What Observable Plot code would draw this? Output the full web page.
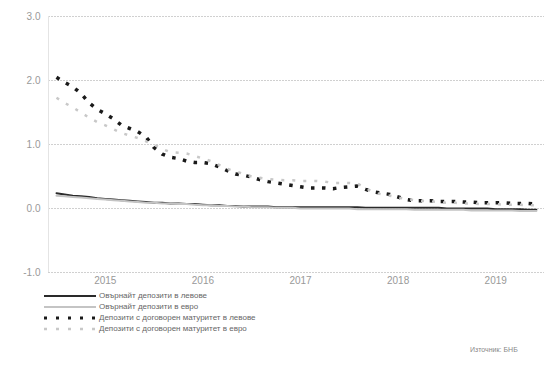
<!DOCTYPE html>
<html>
<head>
<meta charset="utf-8">
<script src="https://cdn.jsdelivr.net/npm/d3@7"></script>
<script src="https://cdn.jsdelivr.net/npm/@observablehq/plot@0.6"></script>
<style>
  html, body { margin: 0; padding: 0; background: #fff; }
  body { width: 544px; height: 367px; overflow: hidden; font-family: "Liberation Sans", Arial, sans-serif; position: relative; }
  #chart svg { display: block; }
  .legend { position: absolute; left: 44px; top: 290px; font-size: 8px; color: #666; }
  .legend .row { display: flex; align-items: center; height: 11px; }
  .legend svg { margin-right: 3px; }
  .source { position: absolute; left: 470px; top: 346px; font-size: 7px; color: #888; }
</style>
</head>
<body>
<div id="chart"></div>
<div class="legend" id="legend"></div>
<div class="source">Източник: БНБ</div>
<script>
// Monthly series, January 2015 – December 2019 (%)
const startYear = 2015;
const seriesNames = [
  "Овърнайт депозити в левове",
  "Овърнайт депозити в евро",
  "Депозити с договорен матуритет в левове",
  "Депозити с договорен матуритет в евро"
];
const overnightBGN = [
  0.24,0.22,0.20,0.19,0.18,0.16,0.15,0.14,0.13,0.12,0.11,0.10,
  0.09,0.09,0.08,0.08,0.07,0.07,0.06,0.05,0.05,0.04,0.04,0.03,
  0.03,0.03,0.03,0.02,0.02,0.02,0.02,0.02,0.02,0.02,0.02,0.02,
  0.02,0.02,0.01,0.01,0.01,0.01,0.01,0.01,0.01,0.01,0.01,0.01,
  0.00,0.00,0.00,0.00,0.00,0.00,-0.01,-0.01,-0.01,-0.01,-0.02,-0.02
];
const overnightEUR = [
  0.20,0.19,0.18,0.17,0.16,0.15,0.14,0.13,0.12,0.11,0.10,0.09,
  0.09,0.08,0.08,0.07,0.07,0.06,0.05,0.05,0.04,0.04,0.03,0.03,
  0.02,0.02,0.02,0.01,0.01,0.01,0.00,0.00,0.00,0.00,0.00,0.00,
  0.00,-0.01,-0.01,-0.01,-0.01,-0.01,-0.01,-0.01,-0.02,-0.02,-0.02,-0.02,
  -0.02,-0.02,-0.02,-0.03,-0.03,-0.03,-0.03,-0.03,-0.03,-0.04,-0.04,-0.04
];
const maturityBGN = [
  2.05,1.97,1.90,1.80,1.65,1.55,1.48,1.40,1.30,1.25,1.20,1.12,
  0.95,0.85,0.80,0.78,0.74,0.72,0.72,0.70,0.65,0.59,0.54,0.52,
  0.49,0.45,0.42,0.40,0.38,0.36,0.34,0.32,0.32,0.32,0.31,0.33,
  0.34,0.35,0.30,0.26,0.24,0.22,0.18,0.14,0.12,0.12,0.12,0.11,
  0.11,0.11,0.10,0.10,0.09,0.09,0.09,0.09,0.08,0.08,0.08,0.07
];
const maturityEUR = [
  1.73,1.65,1.58,1.50,1.42,1.35,1.30,1.24,1.18,1.14,1.10,1.05,
  1.00,0.93,0.88,0.87,0.86,0.82,0.78,0.74,0.68,0.62,0.58,0.54,
  0.50,0.48,0.46,0.45,0.44,0.44,0.43,0.43,0.43,0.42,0.40,0.40,
  0.40,0.39,0.32,0.25,0.22,0.20,0.17,0.15,0.13,0.12,0.11,0.10,
  0.09,0.09,0.08,0.08,0.07,0.07,0.07,0.06,0.06,0.06,0.05,0.05
];
const yearLabels = ["2015","2016","2017","2018","2019"];
const yTicks = [3, 2, 1, 0, -1];

const styles = [
  {stroke: "#2a2a2a", strokeWidth: 2, dash: null},
  {stroke: "#c4c4c4", strokeWidth: 2, dash: null},
  {stroke: "#1a1a1a", strokeWidth: 3.5, dash: "3.5,7.5"},
  {stroke: "#c8c8c8", strokeWidth: 2.5, dash: "3,8"}
];
const allSeries = [overnightBGN, overnightEUR, maturityBGN, maturityEUR];
const toRows = arr => arr.map((v, i) => ({x: startYear + i / 12, y: v}));

const marks = [
  Plot.ruleY(yTicks, {stroke: "#d0d0d0", strokeWidth: 1, strokeDasharray: "2,1"}),
  Plot.ruleX([2014.918], {y1: -1, y2: 3, stroke: "#e4e4e4"})
];
allSeries.forEach((s, k) => {
  const st = styles[k];
  const opts = {x: "x", y: "y", stroke: st.stroke, strokeWidth: st.strokeWidth, curve: "linear"};
  if (st.dash) { opts.strokeDasharray = st.dash; opts.strokeLinecap = "butt"; }
  marks.push(Plot.line(toRows(s), opts));
});

const chart = Plot.plot({
  width: 544,
  height: 290,
  marginLeft: 48,
  marginRight: 0,
  marginTop: 16,
  marginBottom: 18,
  style: {fontFamily: "'Liberation Sans', Arial, sans-serif", fontSize: "10px", color: "#999", background: "#fff"},
  x: {
    domain: [2014.918, 2020],
    ticks: yearLabels.map(d => +d + 0.5),
    tickFormat: d => yearLabels[Math.floor(d) - startYear],
    tickSize: 0,
    tickPadding: 4,
    label: null
  },
  y: {
    domain: [-1, 3],
    ticks: yTicks,
    tickFormat: d => d.toFixed(1),
    tickSize: 0,
    tickPadding: 8,
    label: null
  },
  marks
});
document.getElementById("chart").appendChild(chart);

// Legend
const legend = document.getElementById("legend");
seriesNames.forEach((name, k) => {
  const st = styles[k];
  const row = document.createElement("div");
  row.className = "row";
  const sw = `<svg width="52" height="6"><line x1="0" y1="3" x2="52" y2="3" stroke="${st.stroke}" stroke-width="${k===2?3:st.strokeWidth}" ${st.dash ? `stroke-dasharray="${k===2?'3,9':'3,9'}"` : ""}/></svg>`;
  row.innerHTML = sw + `<span>${name}</span>`;
  legend.appendChild(row);
});
</script>
</body>
</html>
